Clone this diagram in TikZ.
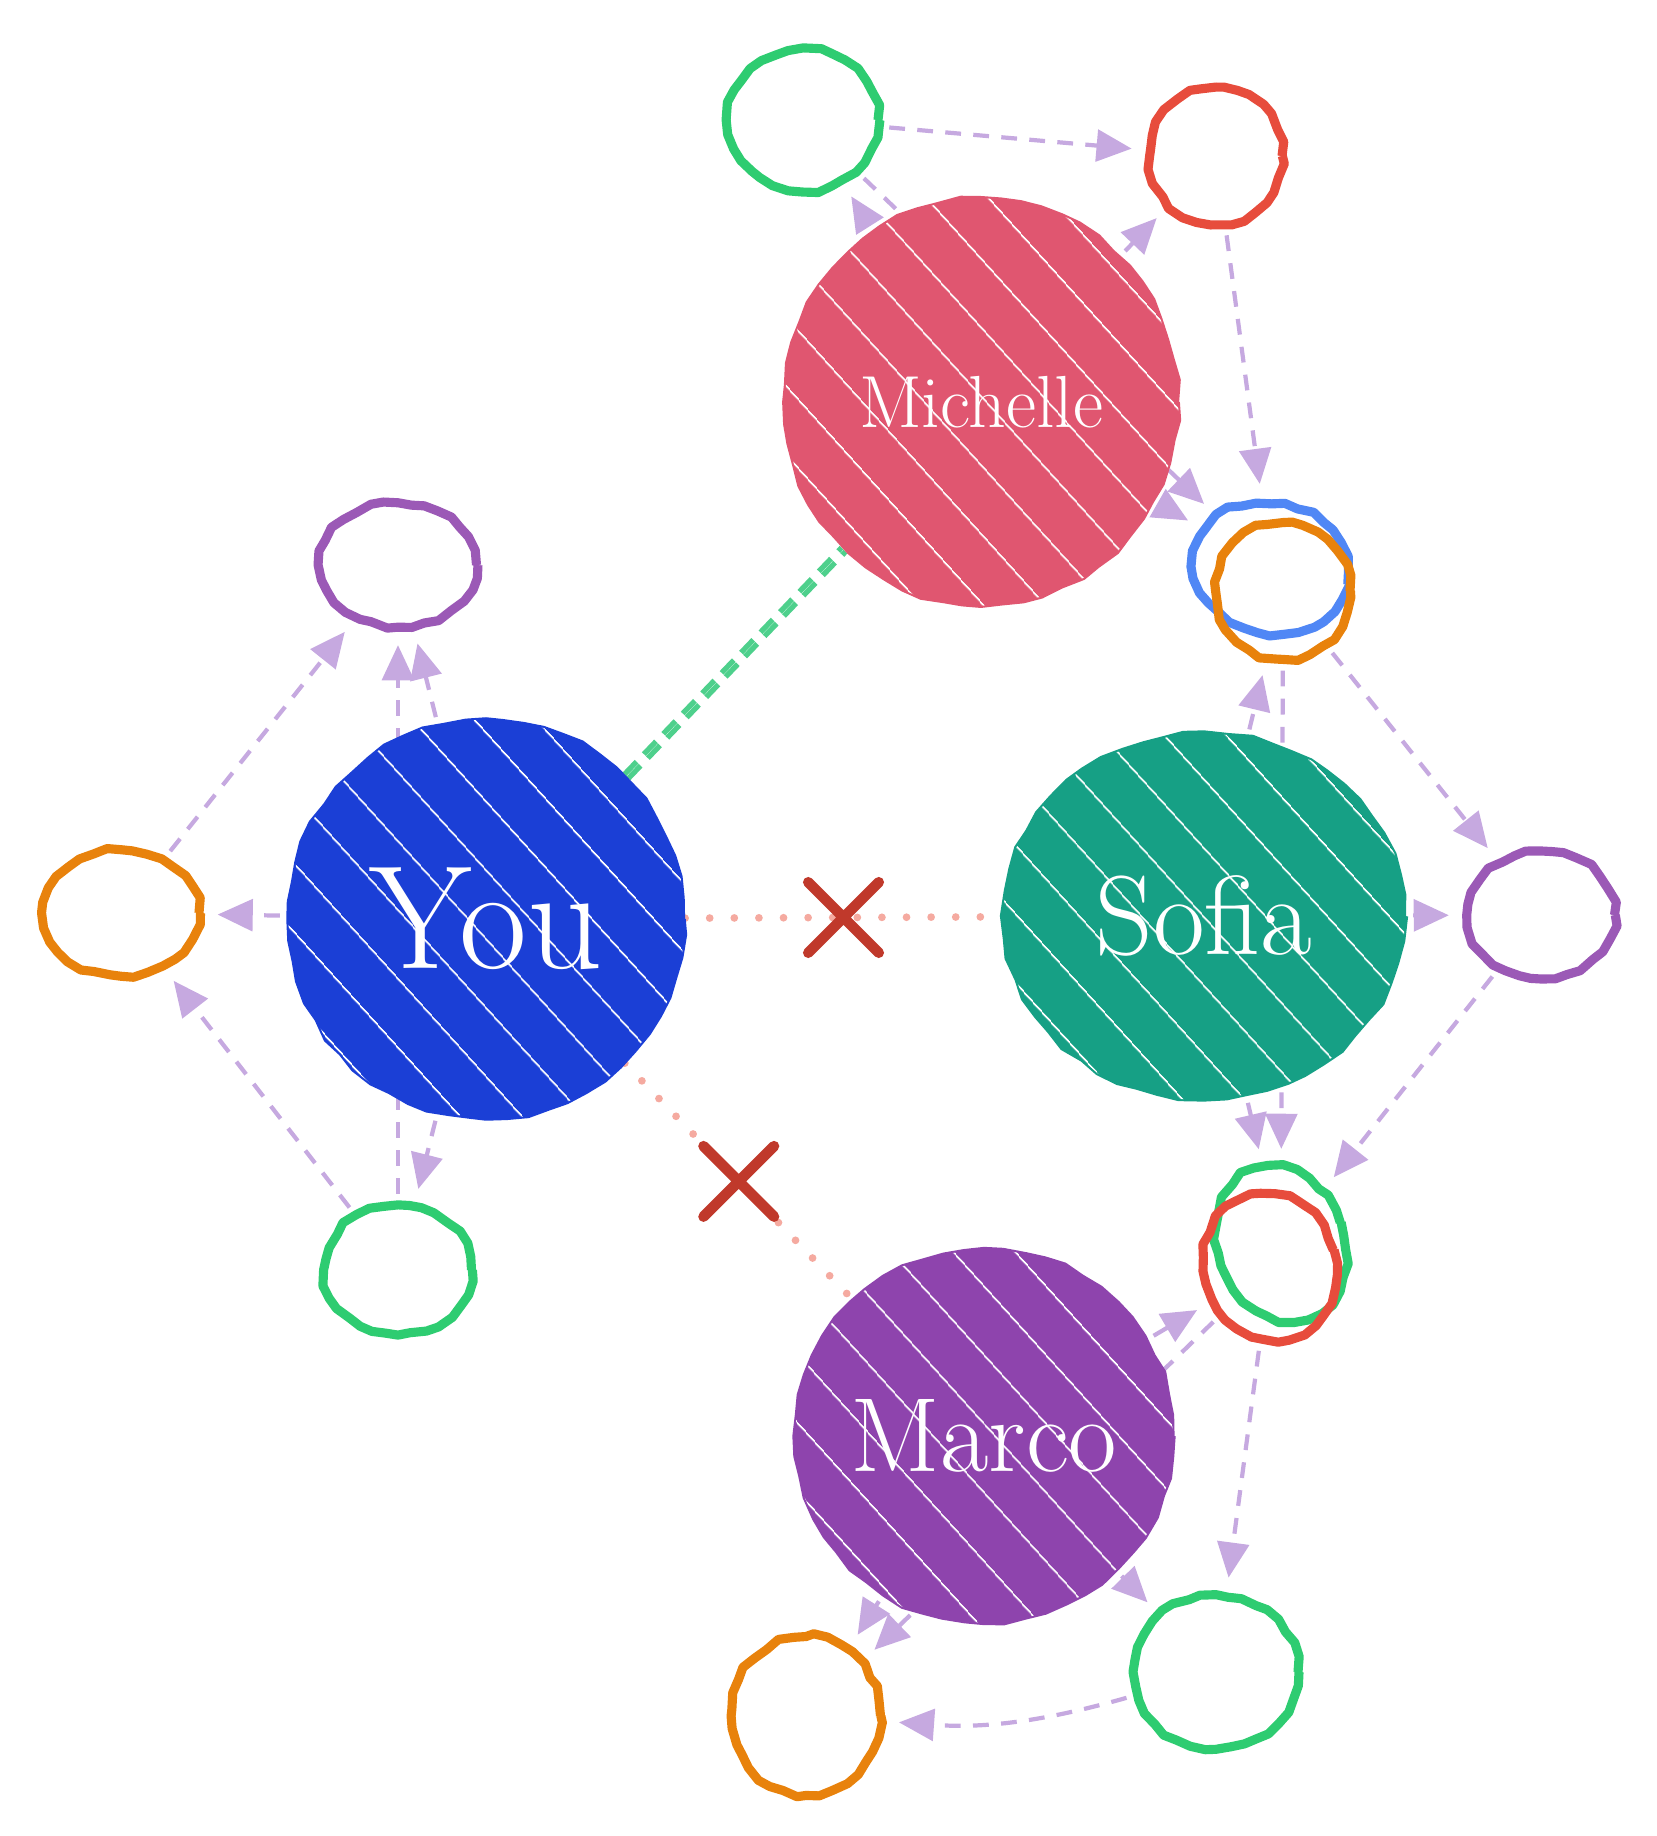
\documentclass[tikz,border=0pt]{standalone}
\usepackage{fontspec}
\usepackage{tikz}
\usetikzlibrary{arrows.meta,shapes.geometric,shapes.misc,decorations.pathmorphing,patterns.meta,backgrounds}
\definecolor{myblue}{RGB}{27,63,214}
\definecolor{myrose}{RGB}{224,86,112}
\definecolor{myteal}{RGB}{22,160,133}
\definecolor{myplum}{RGB}{142,68,173}
\definecolor{mygreen}{RGB}{46,204,113}
\definecolor{myred}{RGB}{231,76,60}
\definecolor{myorange}{RGB}{232,130,12}
\definecolor{mypurple}{RGB}{155,89,182}
\definecolor{mysky}{RGB}{80,135,245}
\definecolor{mylilac}{RGB}{198,169,224}
\definecolor{mymint}{RGB}{78,208,140}
\definecolor{mysalmon}{RGB}{245,170,160}
\definecolor{mycross}{RGB}{192,57,43}

\begin{document}
\begin{tikzpicture}[
  mybig/.style={
    ellipse,
    draw=#1,
    fill=#1,
    line width=1.2pt,
    line join=round,
    text=white,
    inner sep=0pt,
    decorate,
    decoration={random steps, segment length=6pt, amplitude=0.5pt},
    postaction={pattern={Lines[angle=-48,distance=13pt,line width=.45pt]}, pattern color=white}
    },
  myring/.style={
    ellipse,
    draw=#1,
    line width=2.6pt,
    line join=round,
    inner sep=0pt,
    minimum width=1.5cm,
    minimum height=1.35cm,
    decorate,
    decoration={random steps, segment length=4pt, amplitude=0.6pt},
    preaction={draw=#1, line width=2pt, decorate, decoration={random steps, segment length=4pt, amplitude=1.4pt}}
    },
  myflow/.style={
    draw=mylilac,
    line width=1.2pt,
    dash pattern=on 4.5pt off 3.5pt,
    -{Triangle[length=10pt,width=9pt]},
    shorten >=4pt,
    shorten <=2pt
    },
  myfriend/.style={
    draw=mymint,
    line width=1.5pt,
    dash pattern=on 5pt off 3pt
    },
  myblock/.style={
    draw=mysalmon,
    line width=2.2pt,
    line cap=round,
    dash pattern=on 0pt off 7pt
    },
  mycross/.style={
    cross out,
    draw=mycross,
    solid,
    line width=3pt,
    minimum size=0.6cm,
    inner sep=0pt
    }
]
\useasboundingbox (0,0) rectangle (16.56,18.36);
\pgfmathsetseed{7}

% people
\node [mybig=myblue, minimum width=3.94cm, minimum height=3.98cm, font=\fontsize{42}{46}\selectfont] (you) at (4.86,9.17) {You};
\node [mybig=myrose, minimum width=3.92cm, minimum height=4.06cm, font=\fontsize{21}{24}\selectfont] (michelle) at (9.81,14.34) {Michelle};
\node [mybig=myteal, minimum width=4.0cm, minimum height=3.64cm, font=\fontsize{32}{36}\selectfont] (sofia) at (12.04,9.20) {Sofia};
\node [mybig=myplum, minimum width=3.44cm, minimum height=3.72cm, font=\fontsize{30}{34}\selectfont] (marco) at (9.84,4.00) {Marco};

% their circles
\node [myring=mypurple, minimum width=1.57cm, minimum height=1.23cm] (youP) at (3.98,12.71) {};
\node [myring=myorange, minimum width=1.56cm, minimum height=1.25cm] (youO) at (1.21,9.23) {};
\node [myring=mygreen, minimum width=1.47cm, minimum height=1.29cm] (youG) at (3.98,5.66) {};

\node [myring=mygreen, minimum width=1.50cm, minimum height=1.41cm] (miG) at (8.03,17.16) {};
\node [myring=myred, minimum width=1.32cm, minimum height=1.37cm] (miR) at (12.16,16.80) {};
\node [myring=mysky, minimum width=1.57cm, minimum height=1.30cm, rotate=-12] (miB) at (12.71,12.68) {};

\node [myring=myorange, minimum width=1.34cm, minimum height=1.36cm] (soO) at (12.83,12.45) {};
\node [myring=mypurple, minimum width=1.47cm, minimum height=1.27cm] (soP) at (15.41,9.21) {};
\node [myring=mygreen, minimum width=1.26cm, minimum height=1.58cm, rotate=20] (soG) at (12.81,5.92) {};

\node [myring=myred, minimum width=1.31cm, minimum height=1.49cm, rotate=15] (maR) at (12.70,5.69) {};
\node [myring=mygreen, minimum width=1.64cm, minimum height=1.53cm] (maG) at (12.16,1.64) {};
\node [myring=myorange, minimum width=1.49cm, minimum height=1.58cm] (maO) at (8.06,1.20) {};

\begin{scope}[on background layer]
  \draw [myflow] (you) -- (youP);
  \draw [myflow] (you) -- (youO);
  \draw [myflow] (you) -- (youG);
  \draw [myflow] (youO) -- (youP);
  \draw [myflow] (youG) -- (youO);
  \draw [myflow] (youG) -- (youP);

  \draw [myflow] (michelle) -- (miG);
  \draw [myflow] (michelle) -- (miR);
  \draw [myflow] (michelle) -- (miB);
  \draw [myflow] (miG) -- (miR);
  \draw [myflow] (miR) -- (miB);
  \draw [myflow] (miG) -- (miB);

  \draw [myflow] (sofia) -- (soO);
  \draw [myflow] (sofia) -- (soP);
  \draw [myflow] (sofia) -- (soG);
  \draw [myflow] (soO) -- (soP);
  \draw [myflow] (soP) -- (soG);
  \draw [myflow] (soO) -- (soG);

  \draw [myflow] (marco) -- (maR);
  \draw [myflow] (marco) -- (maG);
  \draw [myflow] (marco) -- (maO);
  \draw [myflow] (maR) -- (maG);
  \draw [myflow] (maG) to [bend left=10] (maO);
  \draw [myflow] (maR) -- (maO);

  \draw [myfriend] (you) -- (michelle);
  \draw [myfriend, transform canvas={shift={(0.04,-0.04)}}] (you) -- (michelle);
  \draw [myblock] (you) -- node [mycross] (xsofia) {} (sofia);
  \draw [myblock] (you) -- node [mycross] (xmarco) {} (marco);
\end{scope}

\end{tikzpicture}
\end{document}
